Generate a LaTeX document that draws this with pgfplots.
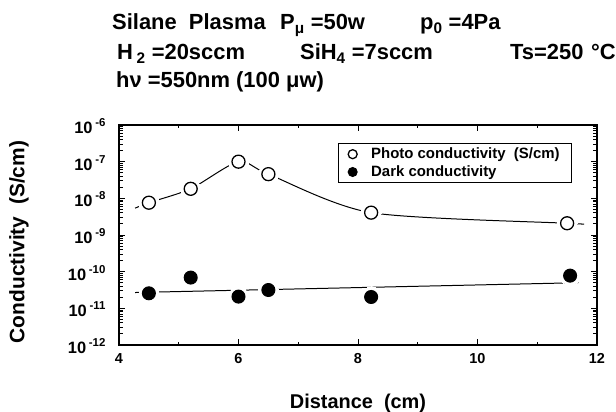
\documentclass[border=0pt]{standalone}
\usepackage{fontspec}
\setmainfont{Liberation Sans}
\usepackage{pgfplots}
\pgfplotsset{compat=1.18}
\newcommand{\yl}[1]{\fontsize{16.5}{16.5}\selectfont\textbf{10}\,\raisebox{7bp}{\fontsize{11.5}{11.5}\selectfont\textbf{#1}}}
\begin{document}
\begin{tikzpicture}
\useasboundingbox (-119bp,-67bp) rectangle (497bp,345bp);
\begin{axis}[
  scale only axis, width=478bp, height=220bp,
  xmin=4, xmax=12, ymode=log, ymin=1e-12, ymax=1e-6,
  xtick={4,6,8,10,12}, minor xtick={5,7,9,11},
  ytick={1e-12,1e-11,1e-10,1e-9,1e-8,1e-7,1e-6},
  yticklabels={\yl{-12},\yl{-11},\yl{-10},\yl{-9},\yl{-8},\yl{-7},\yl{-6}},
  tick align=inside, major tick length=6bp, minor tick length=3.5bp,
  axis line style={line width=1.3pt},
  every tick/.style={line width=1pt, black},
  /pgf/number format/assume math mode=true,
  tick label style={font=\fontsize{14.5}{14.5}\selectfont\bfseries},
  xticklabel style={yshift=-5bp},
  yticklabel style={xshift=-10bp, yshift=-1bp},
  legend style={at={(0.948,0.918)}, anchor=north east, draw=black, line width=1pt,
    font=\fontsize{15}{17}\selectfont\bfseries, row sep=1.5pt, inner xsep=10bp, inner ysep=2.5bp},
  legend cell align=left,
  legend image code/.code={\draw[#1, mark size=4.5bp] plot coordinates {(0.2cm,0cm)};},
]
\addplot[forget plot, no marks, line width=1pt, smooth, tension=0.45] coordinates {
 (4.27,5.4e-9) (4.5,7.6e-9) (5.2,1.82e-8) (6.0,1.0e-7) (6.5,4.57e-8) (8.22,4.07e-9) (11.5,2.09e-9) (11.74,2.0e-9)};
\addplot[forget plot, no marks, line width=1pt] coordinates {(4.27,2.7e-11) (11.69,5.0e-11)};
% white gaps round the marks
\addplot[forget plot, only marks, color=white, mark=*, mark size=10bp, mark options={fill=white, draw=white, line width=0pt}] coordinates {
 (4.5,7.6e-9) (5.2,1.82e-8) (6.0,1.0e-7) (6.5,4.57e-8) (8.22,4.07e-9) (11.5,2.09e-9)
 (4.5,2.57e-11) (5.2,6.9e-11) (6.0,2.09e-11) (6.5,3.16e-11) (8.22,2.04e-11) (11.55,7.8e-11)};
\addplot[only marks, mark=*, mark size=6.5bp, mark options={fill=white, draw=black, line width=1.3pt}] coordinates {
 (4.5,7.6e-9) (5.2,1.82e-8) (6.0,1.0e-7) (6.5,4.57e-8) (8.22,4.07e-9) (11.5,2.09e-9)};
\addlegendentry{\hspace{12bp}Photo conductivity\ \ (S/cm)}
\addplot[only marks, mark=*, mark size=6.5bp, mark options={fill=black, draw=black, line width=1pt}] coordinates {
 (4.5,2.57e-11) (5.2,6.9e-11) (6.0,2.09e-11) (6.5,3.16e-11) (8.22,2.04e-11) (11.55,7.8e-11)};
\addlegendentry{\hspace{12bp}Dark conductivity}
\end{axis}
\begin{scope}[every node/.style={anchor=base west, inner sep=0pt, font=\fontsize{22}{22}\selectfont\bfseries}]
\node at (-7bp,315bp) {Silane\ \ Plasma};
\node at (161bp,315bp) {P\textsubscript{μ} =50w};
\node at (301bp,315bp) {p\textsubscript{0} =4Pa};
\node at (-2bp,285bp) {H\,\textsubscript{2} =20sccm};
\node at (181bp,285bp) {SiH\textsubscript{4} =7sccm};
\node at (391bp,285bp) {Ts=250};
\node at (472bp,285bp) {°C};
\node at (-3bp,257bp) {hν =550nm (100\ μw)};
\end{scope}
\node[rotate=90, anchor=center, font=\fontsize{21}{21}\selectfont\bfseries] at (-100bp,103bp) {Conductivity\ \ (S/cm)};
\node[anchor=base, inner sep=0pt, font=\fontsize{20}{20}\selectfont\bfseries] at (239bp,-63bp) {Distance\ \ (cm)};
\end{tikzpicture}
\end{document}
